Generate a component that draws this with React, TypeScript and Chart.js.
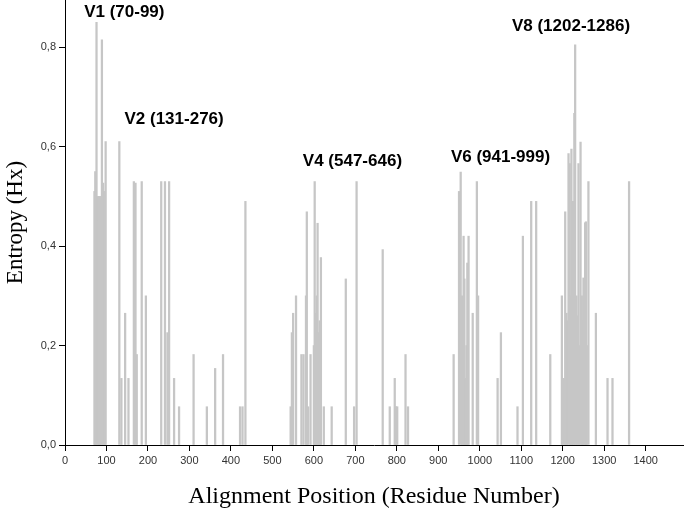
import React, { useEffect, useRef } from "react";
import { Chart, registerables } from "chart.js";

Chart.register(...registerables);

// Alignment positions (residue numbers) and Shannon entropy values
const positions = [
  71, 73, 74, 76, 78, 80, 82, 84, 86, 89, 92, 95, 98,
  131, 136, 145, 153, 166, 170, 173, 185, 195, 232, 241, 247, 251, 263, 275,
  310, 342, 362, 381, 422, 428, 435,
  544, 547, 550, 557, 570, 575, 581, 583, 586, 592, 600, 602, 605, 607, 609, 612, 614, 617, 624, 643,
  677, 697, 703, 766, 783, 795, 798, 801, 821, 827,
  937, 950, 954, 957, 961, 963, 966, 968, 970, 973, 983, 993, 996,
  1043, 1051, 1091, 1104, 1124, 1136, 1170,
  1198, 1202, 1206, 1209, 1211, 1214, 1217, 1219, 1221, 1223, 1225, 1228, 1230, 1233, 1235, 1238, 1240,
  1243, 1246, 1248, 1250, 1254, 1256, 1258, 1262, 1280, 1308, 1320, 1360,
];
const entropy = [
  0.51, 0.55, 0.3, 0.85, 0.5, 0.45, 0.5, 0.48, 0.5, 0.815, 0.527, 0.51, 0.61,
  0.61, 0.134, 0.265, 0.134, 0.53, 0.527, 0.182, 0.53, 0.3, 0.53, 0.53, 0.226, 0.53, 0.134, 0.077,
  0.182, 0.077, 0.154, 0.182, 0.077, 0.077, 0.49,
  0.077, 0.226, 0.265, 0.3, 0.182, 0.182, 0.3, 0.469, 0.077, 0.182, 0.2, 0.53, 0.265, 0.3, 0.446, 0.226, 0.25, 0.377, 0.077, 0.077,
  0.334, 0.077, 0.53, 0.393, 0.077, 0.134, 0.077, 0.077, 0.182, 0.077,
  0.182, 0.51, 0.549, 0.3, 0.42, 0.334, 0.134, 0.2, 0.366, 0.42, 0.265, 0.53, 0.3,
  0.134, 0.226, 0.077, 0.42, 0.49, 0.49, 0.182,
  0.3, 0.134, 0.469, 0.265, 0.25, 0.586, 0.566, 0.3, 0.595, 0.28, 0.49, 0.667, 0.805, 0.3, 0.26, 0.566, 0.2,
  0.609, 0.3, 0.25, 0.336, 0.447, 0.449, 0.2, 0.53, 0.265, 0.134, 0.134, 0.53,
];

// Variable-region annotations (text, centre position, entropy level)
const regionLabels = ["V1 (70-99)", "V2 (131-276)", "V4 (547-646)", "V6 (941-999)", "V8 (1202-1286)"];
const regionLabelX = [143, 263, 693, 1050, 1220];
const regionLabelY = [0.87, 0.655, 0.57, 0.579, 0.843];

const xTickValues = [0, 100, 200, 300, 400, 500, 600, 700, 800, 900, 1000, 1100, 1200, 1300, 1400];
const yTickValues = [0, 0.2, 0.4, 0.6, 0.8];

const labelPlugin = {
  id: "regionLabels",
  afterDatasetsDraw(chart: any) {
    const { ctx, scales } = chart;
    ctx.save();
    ctx.font = "bold 17px 'Liberation Sans', Arial, sans-serif";
    ctx.fillStyle = "#000";
    ctx.textAlign = "center";
    ctx.textBaseline = "middle";
    regionLabels.forEach((t, i) => {
      ctx.fillText(t, scales.x.getPixelForValue(regionLabelX[i]), scales.y.getPixelForValue(regionLabelY[i]));
    });
    ctx.restore();
  },
};

export default function App() {
  const ref = useRef<HTMLCanvasElement>(null);
  useEffect(() => {
    const data = positions.map((p, i) => ({ x: p, y: entropy[i] }));
    const chart = new Chart(ref.current!, {
      type: "bar",
      data: {
        datasets: [
          {
            data,
            backgroundColor: "#c6c6c6",
            borderWidth: 0,
            barThickness: 1.6,
          } as any,
        ],
      },
      options: {
        animation: false,
        responsive: false,
        maintainAspectRatio: false,
        layout: { padding: { left: 0, right: 2, top: 0, bottom: 0 } },
        plugins: { legend: { display: false }, tooltip: { enabled: false } },
        scales: {
          x: {
            type: "linear",
            offset: false,
            min: 0,
            max: 1490,
            afterFit: (s: any) => {
              s.height = 67;
            },
            afterBuildTicks: (s: any) => {
              s.ticks = xTickValues.map((v) => ({ value: v }));
            },
            ticks: {
              autoSkip: false,
              maxRotation: 0,
              padding: 3,
              color: "#333",
              font: { family: "'Liberation Sans', Arial, sans-serif", size: 11 },
              callback: (v: any) => String(v),
            },
            grid: { display: true, drawOnChartArea: false, drawTicks: true, tickLength: 6, color: "#000", offset: false },
            border: { display: true, color: "#000", width: 1 },
            title: {
              display: true,
              text: "Alignment Position (Residue Number)",
              color: "#000",
              font: { family: "'Liberation Serif', 'Times New Roman', serif", size: 24 },
              padding: { top: 0, bottom: 1 },
            },
          },
          y: {
            type: "linear",
            min: 0,
            max: 0.895,
            afterFit: (s: any) => {
              s.width = 65;
              s.paddingTop = 0;
            },
            afterBuildTicks: (s: any) => {
              s.ticks = yTickValues.map((v) => ({ value: v }));
            },
            ticks: {
              padding: 3,
              color: "#333",
              font: { family: "'Liberation Sans', Arial, sans-serif", size: 11 },
              callback: (v: any) => Number(v).toFixed(1).replace(".", ","),
            },
            grid: { display: true, drawOnChartArea: false, drawTicks: true, tickLength: 6, color: "#000" },
            border: { display: true, color: "#000", width: 1 },
            title: {
              display: true,
              text: "Entropy (Hx)",
              color: "#000",
              font: { family: "'Liberation Serif', 'Times New Roman', serif", size: 23 },
              padding: { top: 2, bottom: 0 },
            },
          },
        },
      },
      plugins: [labelPlugin],
    });
    return () => chart.destroy();
  }, []);
  return (
    <div style={{ position: "absolute", left: 0, top: 0, width: 685, height: 512 }}>
      <canvas ref={ref} width={685} height={512} style={{ width: 685, height: 512 }} />
    </div>
  );
}
